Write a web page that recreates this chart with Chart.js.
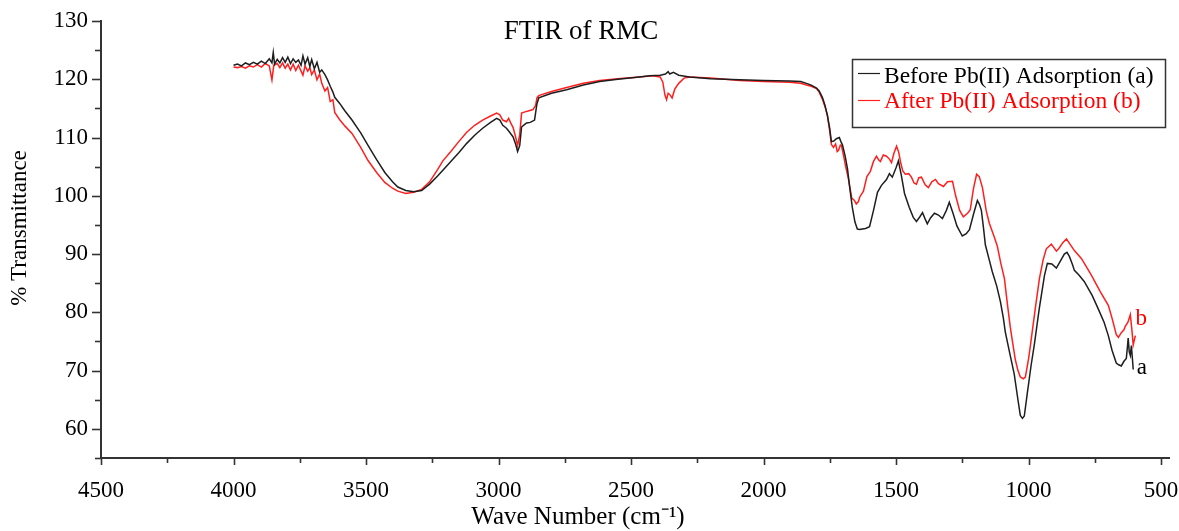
<!DOCTYPE html>
<html><head><meta charset="utf-8">
<script src="https://cdn.jsdelivr.net/npm/chart.js@4.4.0/dist/chart.umd.min.js"></script>
<style>html,body{margin:0;padding:0;background:#fff;}#wrap{width:1179px;height:531px;}</style>
</head><body><div id="wrap"><canvas id="c" width="1179" height="531"></canvas></div>
<script>
// Before Pb(II) adsorption (a)
const wnA=[4000,3985,3970,3955,3940,3925,3910,3895,3880,3865,3855,3850,3845,3835,3825,3815,3805,3795,3785,3775,3765,3755,3745,3738,3730,3720,3712,3705,3695,3685,3675,3667,3655,3645,3635,3625,3618,3600,3580,3553,3520,3493,3460,3429,3400,3380,3350,3320,3290,3260,3230,3210,3180,3150,3120,3090,3060,3030,3007,2995,2984,2970,2958,2945,2935,2928,2920,2913,2900,2894,2880,2864,2855,2848,2800,2743,2680,2618,2550,2468,2430,2390,2370,2360,2354,2340,2320,2279,2200,2090,2000,1902,1860,1838,1820,1800,1790,1778,1768,1759,1750,1744,1735,1725,1714,1708,1702,1692,1683,1675,1665,1655,1646,1637,1627,1615,1600,1585,1570,1555,1536,1525,1514,1500,1491,1480,1468,1450,1435,1423,1410,1400,1390,1382,1370,1355,1340,1325,1310,1299,1285,1270,1250,1235,1223,1208,1193,1185,1178,1170,1163,1150,1137,1120,1106,1095,1088,1070,1054,1040,1031,1023,1016,1005,990,978,960,940,929,912,895,880,865,855,846,835,827,810,790,760,737,715,699,685,669,660,650,640,631,627,624,620,616,612,608,605];
const tA=[122.4,122.6,122.3,122.8,122.5,122.9,122.6,123.1,122.7,123.5,122.8,124.6,122.6,123.4,122.8,123.7,122.9,123.8,122.7,123.5,122.9,123.3,122.4,124.0,122.6,123.7,122.2,123.4,121.8,122.9,121.2,121.6,120.8,119.9,118.8,117.8,116.9,115.9,114.6,113.0,110.8,108.7,106.2,104.0,102.4,101.5,100.9,100.7,100.9,102.0,103.4,104.4,105.9,107.4,109.0,110.4,111.6,112.6,113.3,113.0,112.1,111.6,110.9,110.1,108.8,107.6,108.6,111.8,112.3,112.5,112.6,113.0,115.8,116.8,117.6,118.2,119.0,119.6,120.0,120.4,120.6,120.7,120.9,121.3,120.9,121.2,120.7,120.4,120.1,119.9,119.8,119.7,119.6,119.3,119.0,118.5,118.0,116.9,115.5,113.8,111.5,109.3,109.4,109.8,110.0,109.3,108.7,106.8,104.6,101.5,98.0,95.5,94.3,94.2,94.3,94.4,94.7,97.5,100.6,101.8,102.8,103.8,103.2,104.8,106.0,103.5,100.4,98.0,96.3,95.6,96.4,97.1,96.0,95.2,96.2,97.0,96.7,96.1,97.5,98.9,97.0,94.8,93.1,93.5,94.2,96.8,99.2,98.5,97.5,94.5,91.6,89.3,87.0,84.5,81.8,79.0,76.7,72.8,69.4,65.0,62.3,61.8,62.2,66.0,71.0,74.5,80.5,86.3,88.4,88.3,87.6,88.8,90.0,90.3,89.6,88.3,87.2,86.4,85.3,82.9,80.6,78.3,76.0,73.5,71.3,71.0,70.8,71.6,72.1,74.0,75.6,73.2,72.6,74.3,72.0,70.2];
// After Pb(II) adsorption (b)
const wnB=[4000,3985,3970,3955,3940,3925,3910,3895,3880,3865,3855,3848,3835,3825,3815,3805,3795,3785,3775,3765,3755,3745,3738,3730,3720,3712,3705,3695,3685,3675,3667,3655,3645,3635,3625,3618,3600,3580,3553,3520,3493,3460,3429,3400,3380,3350,3320,3290,3260,3230,3210,3180,3150,3120,3090,3060,3030,3007,2995,2984,2970,2962,2955,2945,2935,2928,2920,2913,2900,2885,2870,2860,2855,2848,2800,2743,2680,2618,2550,2468,2420,2390,2380,2372,2366,2360,2354,2345,2335,2320,2300,2279,2200,2090,2000,1902,1860,1838,1820,1800,1790,1778,1768,1759,1750,1744,1736,1728,1722,1717,1710,1706,1698,1690,1680,1667,1657,1650,1642,1637,1623,1610,1597,1585,1574,1566,1559,1548,1536,1525,1517,1508,1498,1490,1483,1475,1465,1452,1442,1432,1423,1414,1404,1390,1378,1365,1351,1340,1321,1306,1287,1275,1260,1246,1230,1220,1208,1196,1186,1174,1166,1160,1148,1130,1118,1105,1091,1080,1069,1060,1050,1040,1031,1020,1012,1000,993,975,959,945,933,914,895,885,870,857,845,827,800,763,730,699,685,669,661,650,640,635,625,616,610,605,597];
const tB=[122.1,122.0,122.2,121.9,122.3,122.1,122.5,122.1,122.7,122.3,119.9,122.4,122.7,122.0,122.8,121.9,122.6,121.6,122.6,121.5,122.4,121.4,120.7,122.3,121.4,122.0,120.8,121.6,119.9,120.9,119.3,118.0,118.6,116.2,116.5,114.3,113.1,112.0,110.7,108.3,106.1,104.0,102.3,101.3,100.8,100.4,100.6,101.1,102.4,104.5,106.0,107.6,109.3,110.9,112.1,113.0,113.7,114.2,113.9,113.0,112.7,113.3,112.6,111.7,110.0,108.6,110.5,114.2,114.4,114.6,114.8,115.5,116.8,117.2,117.9,118.6,119.3,119.8,120.1,120.4,120.6,120.4,119.5,117.3,116.5,117.6,117.4,116.8,118.3,119.3,120.2,120.4,120.2,119.8,119.6,119.5,119.3,119.0,118.8,118.4,117.8,116.6,115.3,113.8,111.0,108.8,108.3,108.9,107.6,107.8,108.7,108.6,106.9,105.0,103.0,99.6,99.2,98.6,99.0,99.8,100.8,103.3,104.2,105.9,106.8,106.2,105.9,107.0,106.8,106.3,105.7,107.3,108.5,107.5,105.8,104.3,103.7,103.8,103.2,102.2,102.0,103.1,103.2,101.9,101.4,102.4,102.8,102.1,101.6,102.4,102.5,100.0,97.5,96.4,97.0,97.6,101.2,103.7,103.3,101.4,99.2,97.5,95.3,93.0,91.4,88.5,85.8,81.5,77.5,74.8,71.9,70.0,68.9,68.6,68.9,72.0,74.3,80.5,85.8,89.0,90.9,91.7,90.5,91.0,92.0,92.6,91.8,90.6,89.2,86.4,83.6,81.2,79.0,76.2,75.7,76.5,77.0,77.6,78.3,79.6,77.0,74.4,76.0];
const xTickValues=[4500,4250,4000,3750,3500,3250,3000,2750,2500,2250,2000,1750,1500,1250,1000,750,500];
const yTickValues=[55,60,65,70,75,80,85,90,95,100,105,110,115,120,125,130];
const seriesNames=['Before Pb(II) Adsorption (a)','After Pb(II) Adsorption (b)'];
const seriesColors=['#1e1e1e','#ff1f1f'];
const textColors=['#000000','#ff0000'];
const endLabels=['a','b'];
const titleText='FTIR of RMC';
const xTitle='Wave Number (cm\u207B\u00B9)';
const yTitle='% Transmittance';

const SERIF='"Liberation Serif","Times New Roman",serif';
const toPts=(xs,ys)=>xs.map((x,i)=>({x:x,y:ys[i]}));

const decor={
  id:'decor',
  afterDraw(chart){
    const ctx=chart.ctx, xs=chart.scales.x, ys=chart.scales.y;
    ctx.save();
    ctx.strokeStyle='#333'; ctx.lineWidth=1.6;
    const axX=ys.right, axY=xs.top;
    yTickValues.forEach(v=>{
      const p=Math.round(ys.getPixelForValue(v))+0.5;
      const len=(v%10===0)?9:6;
      ctx.beginPath(); ctx.moveTo(axX-len,p); ctx.lineTo(axX,p); ctx.stroke();
    });
    xTickValues.forEach(v=>{
      const p=Math.round(xs.getPixelForValue(v))+0.5;
      const len=(v%500===0)?7:5;
      ctx.beginPath(); ctx.moveTo(p,axY); ctx.lineTo(p,axY+len); ctx.stroke();
    });
    // axis titles
    ctx.fillStyle='#000'; ctx.textAlign='center'; ctx.textBaseline='middle';
    ctx.font='25px '+SERIF;
    ctx.fillText(xTitle,578,517);
    ctx.font='23px '+SERIF;
    ctx.save(); ctx.translate(20,228); ctx.rotate(-Math.PI/2); ctx.fillText(yTitle,0,0); ctx.restore();
    // title
    ctx.font='27px '+SERIF;
    ctx.fillText(titleText,581,32);
    // legend box
    ctx.fillStyle='#fff'; ctx.fillRect(852,59,313,68);
    ctx.strokeStyle='#333'; ctx.lineWidth=1.5; ctx.strokeRect(852.5,59.5,313,68);
    ctx.font='23.5px '+SERIF; ctx.textAlign='left'; ctx.textBaseline='alphabetic';
    const rows=[[73.5,83],[100.5,108]];
    seriesNames.forEach((n,i)=>{
      ctx.strokeStyle=seriesColors[i]; ctx.lineWidth=1.2;
      ctx.beginPath(); ctx.moveTo(858,rows[i][0]); ctx.lineTo(880,rows[i][0]); ctx.stroke();
      ctx.fillStyle=textColors[i];
      ctx.fillText(n,884,rows[i][1]);
    });
    // end labels
    ctx.font='23px '+SERIF; ctx.textAlign='center'; ctx.textBaseline='middle';
    ctx.fillStyle=textColors[1]; ctx.fillText(endLabels[1],xs.getPixelForValue(575),ys.getPixelForValue(78.8));
    ctx.fillStyle=textColors[0]; ctx.fillText(endLabels[0],xs.getPixelForValue(572),ys.getPixelForValue(70.4));
    ctx.restore();
  }
};

new Chart(document.getElementById('c'),{
  type:'line',
  data:{datasets:[
    {label:seriesNames[0],data:toPts(wnA,tA),borderColor:seriesColors[0],borderWidth:1.5,pointRadius:0,tension:0,fill:false,order:1},
    {label:seriesNames[1],data:toPts(wnB,tB),borderColor:seriesColors[1],borderWidth:1.5,pointRadius:0,tension:0,fill:false,order:2}
  ]},
  options:{
    responsive:false,animation:false,devicePixelRatio:1,
    layout:{padding:{top:21,right:10,left:0,bottom:0}},
    plugins:{legend:{display:false},tooltip:{enabled:false},title:{display:false}},
    scales:{
      x:{type:'linear',reverse:true,min:470,max:4500,position:'bottom',
        grid:{display:false},border:{display:true,color:'#333',width:2},
        afterBuildTicks:s=>{s.ticks=xTickValues.map(v=>({value:v}));},
        afterFit:s=>{s.height=73;s.paddingLeft=0;s.paddingRight=0;},
        ticks:{autoSkip:false,maxRotation:0,padding:11,color:'#000',font:{family:SERIF,size:23},
          callback:v=>(v%500===0)?String(v):''},
        title:{display:false}
      },
      y:{type:'linear',min:55,max:130,
        grid:{display:false},border:{display:true,color:'#333',width:2},
        afterBuildTicks:s=>{s.ticks=yTickValues.map(v=>({value:v}));},
        afterFit:s=>{s.width=101;s.paddingTop=0;s.paddingBottom=0;},
        ticks:{autoSkip:false,padding:5,color:'#000',font:{family:SERIF,size:23},
          callback:v=>(v%10===0)?String(v):''},
        title:{display:false}
      }
    }
  },
  plugins:[decor]
});
</script></body></html>
